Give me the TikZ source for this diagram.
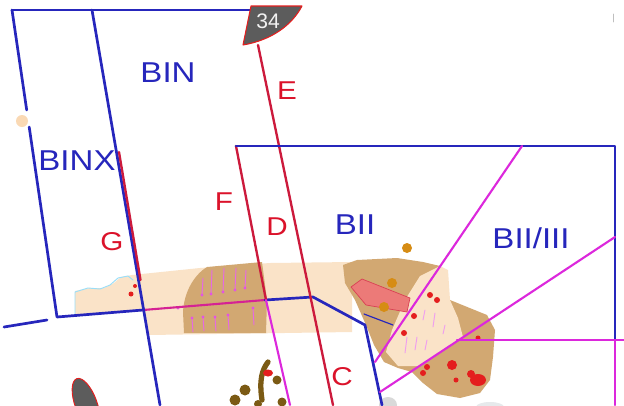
\documentclass[tikz,border=0pt]{standalone}
\usepackage{fontspec}
\setmainfont{Liberation Sans}
\newfontfamily\zonefont[FakeStretch=1.15]{Liberation Sans}
\usepackage{xcolor}
\usepackage{tikz}
\definecolor{zoneblue}{HTML}{2626BC}
\definecolor{trenchred}{HTML}{CC1A3C}
\definecolor{cutpink}{HTML}{DC28DC}
\definecolor{sand}{HTML}{FAE3C8}
\definecolor{spoil}{HTML}{D2A872}
\definecolor{salmon}{HTML}{EC7A78}
\definecolor{ochre}{HTML}{D68C14}
\definecolor{findred}{HTML}{E41E1E}
\definecolor{darkspoil}{HTML}{7B5A14}
\definecolor{badgegray}{HTML}{5C5C5C}
\tikzset{%
  zone line/.style={
    draw=zoneblue,
    line width=2.3pt
  },
  trench line/.style={
    draw=trenchred,
    line width=2pt
  },
  cut line/.style={
    draw=cutpink,
    line width=1.8pt
  },
  zone label/.style={
    inner sep=0pt,
    text=zoneblue,
    font=\zonefont\fontsize{24.5}{24.5}\selectfont
  },
  trench label/.style={
    inner sep=0pt,
    text=trenchred!70!red,
    font=\zonefont\fontsize{22}{22}\selectfont
  },
  hachure/.style={
    draw=cutpink!70!white,
    line width=0.8pt
  },
}

\begin{document}
\begin{tikzpicture}[x=0.3mm, y=-0.3mm, line join=round, line cap=round]
        \clip (0,0) rectangle (624,405);
        \fill[white] (0,0) rectangle (624,405);

        % sand band and spoil heaps
        \fill[sand] (75,316) -- (75,291) -- (90,288) -- (104,288) -- (114,283) -- (121,277)
          -- (132,275) -- (200,268) -- (270,263) -- (352,262) -- (352,332) -- (148,335) -- (143,311) -- cycle;
        \fill[spoil] (184,333) -- (183,312) .. controls (184,292) and (194,275) .. (207,267)
          -- (262,262) -- (267,300) -- (266,333) -- cycle;
        \fill[spoil] (343,265) -- (357,260) -- (397,258) -- (423,262) -- (440,266) -- (450,300)
          -- (487,315) -- (495,330) -- (493,357) -- (490,380) -- (480,393) -- (460,398) -- (437,394)
          -- (423,383) -- (412,372) -- (398,368) -- (384,362) -- (374,345) -- (366,325) -- (355,300)
          -- (345,283) -- cycle;
        \fill[sand] (420,276) -- (440,266) -- (448,270) -- (450,300) -- (458,318) -- (463,337)
          -- (420,366) -- (398,366) -- (386,352) -- (392,330) -- (405,300) -- cycle;
        \filldraw[fill=salmon, draw=trenchred!60!salmon, line width=0.6pt]
          (351,287) -- (362,279) -- (410,298) -- (407,312) -- (366,305) -- cycle;
        \draw[cyan!40!white, line width=0.8pt] (75,314) -- (75,292) -- (88,288) -- (100,289)
          -- (110,285) -- (118,278) -- (128,276) -- (133,280);

        % hachures
        \foreach \x/\ya/\yb in {203/278/295, 212/270/294, 224/268/292, 236/268/290, 246/270/288}
          {\draw[hachure] (\x,\ya) -- (\x-1,\yb); \fill[cutpink!80!white] (\x-1,\yb) circle (1.6);}
        \foreach \x/\ya/\yb in {192/318/332, 203/317/331, 215/317/331, 228/315/330, 253/308/325}
          {\draw[hachure] (\x,\ya) -- (\x+1,\yb); \fill[cutpink!80!white] (\x,\ya) circle (1.6);}
        \foreach \x/\ya/\yb in {425/310/320, 435/313/327, 445/325/334, 407/337/353, 417/337/350, 427/340/350}
          \draw[hachure, draw=cutpink!45!white] (\x,\ya) -- (\x-2,\yb);

        % finds
        \foreach \x/\y in {407/248, 392/283, 384/307}
          \fill[ochre] (\x,\y) circle (5);
        \foreach \x/\y/\r in {131/294/2.5, 135/286/2, 430/295/3, 437/300/3, 414/316/3, 404/333/3,
            478/338/2.5, 427/367/3, 423/373/3, 452/365/5, 456/380/2.5}
          \fill[findred] (\x,\y) circle (\r);
        \fill[findred] (478,380) ellipse (8 and 6);
        \fill[findred] (471,374) circle (4);
        \fill[cutpink!80!white] (178,308) circle (1.6);
        \fill[sand!90!orange] (22,121) circle (6);

        % dark spoil and stones near the bottom
        \draw[darkspoil, line width=4.5pt] (268,362) .. controls (262,370) and (259,380) .. (262,400);
        \foreach \x/\y/\r in {245/390/5.5, 235/400/5.5, 282/402/4.5, 277/380/4.5, 258/404/4}
          \fill[darkspoil] (\x,\y) circle (\r);
        \fill[findred] (268,373) ellipse (5 and 3.5);
        \filldraw[fill=badgegray, draw=findred, line width=0.8pt, rotate around={20:(86,404)}]
          (86,404) ellipse (11 and 27);
        \fill[gray!30] (388,405) ellipse (9 and 8);
        \fill[cyan!10!gray!20] (490,407) ellipse (14 and 5);
        \draw[gray!50, line width=0.6pt] (613,14) -- (613,22);

        % survey grid
        \draw[zone line] (12,10) -- (250,10);
        \draw[zone line] (12,10) -- (26.7,110);
        \draw[zone line] (29.2,127) -- (57,317) -- (143,310);
        \draw[cut line, draw=cutpink!55!trenchred] (143,310) -- (265,300);
        \draw[zone line] (265,300) -- (313,297) -- (365,325) -- (382,405);
        \draw[zone line] (4,327) -- (47,320);
        \draw[zone line] (92,10) -- (160,405);
        \draw[zone line, line width=1pt] (364,314) -- (393,325);
        \draw[trench line] (119,152) -- (140.5,280);
        \draw[trench line] (258,45) -- (333,405);
        \draw[trench line] (236,146) -- (266,300);
        \draw[cut line] (266,300) -- (290,405);
        \draw[zone line] (236,146) -- (615,146) -- (615,340);
        \draw[cut line] (615,340) -- (615,405);
        \draw[cut line] (375,362) -- (522,146);
        \draw[cut line] (380,392) -- (615,237);
        \draw[cut line] (457,340) -- (624,340);

        \filldraw[fill=badgegray, draw=findred, line width=0.9pt]
          (251,6) -- (302,6) .. controls (292,25) and (272,40) .. (243,45) -- cycle;
        \node[inner sep=0pt, text=white!90!gray, font=\fontsize{18}{18}\selectfont] (badge) at (268,21) {34};

        \node[zone label] (bin) at (168,73) {BIN};
        \node[zone label] (binx) at (77,161) {BINX};
        \node[zone label] (bii) at (355,225) {BII};
        \node[zone label] (biii) at (531,238) {BII/III};

        \node[trench label] (e) at (287,91) {E};
        \node[trench label] (f) at (224,202) {F};
        \node[trench label] (d) at (277,227) {D};
        \node[trench label] (g) at (112,242) {G};
        \node[trench label] (c) at (342,377) {C};
\end{tikzpicture}
\end{document}
